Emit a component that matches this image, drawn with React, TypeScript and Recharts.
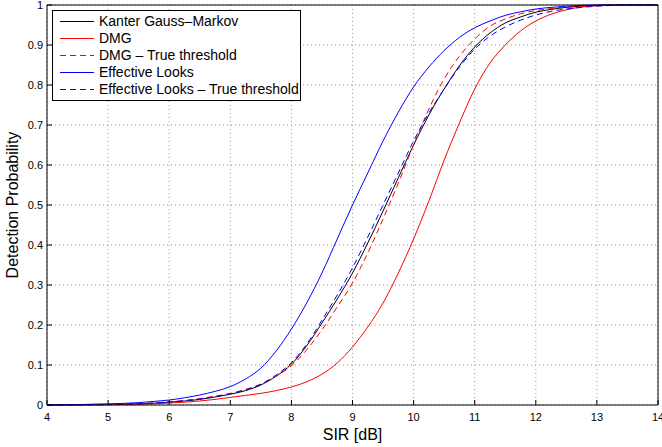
import React from 'react';
import { LineChart, Line, XAxis, YAxis, CartesianGrid, Legend } from 'recharts';

const sir = [4, 4.25, 4.5, 4.75, 5, 5.25, 5.5, 5.75, 6, 6.25, 6.5, 6.75, 7, 7.25, 7.5, 7.75, 8, 8.25, 8.5, 8.75, 9, 9.25, 9.5, 9.75, 10, 10.25, 10.5, 10.75, 11, 11.25, 11.5, 11.75, 12, 12.25, 12.5, 12.75, 13, 13.25, 13.5, 13.75, 14];

const kanter = [0, 0.0002, 0.0004, 0.0007, 0.001, 0.002, 0.003, 0.0045, 0.007, 0.01, 0.014, 0.02, 0.027, 0.036, 0.05, 0.072, 0.102, 0.148, 0.205, 0.265, 0.33, 0.405, 0.485, 0.568, 0.65, 0.725, 0.79, 0.848, 0.895, 0.93, 0.955, 0.97, 0.982, 0.989, 0.994, 0.997, 0.999, 1, 1, 1, 1];
const dmg = [0, 0.0002, 0.0004, 0.0007, 0.001, 0.0015, 0.002, 0.003, 0.005, 0.007, 0.01, 0.014, 0.019, 0.024, 0.029, 0.036, 0.045, 0.058, 0.077, 0.105, 0.145, 0.195, 0.255, 0.33, 0.415, 0.51, 0.612, 0.705, 0.79, 0.855, 0.9, 0.935, 0.96, 0.977, 0.988, 0.995, 0.998, 0.9995, 1, 1, 1];
const dmgTrue = [0, 0.0002, 0.0004, 0.0007, 0.001, 0.002, 0.003, 0.005, 0.008, 0.011, 0.016, 0.022, 0.029, 0.039, 0.052, 0.072, 0.098, 0.138, 0.188, 0.245, 0.305, 0.38, 0.465, 0.555, 0.65, 0.74, 0.815, 0.872, 0.915, 0.947, 0.965, 0.978, 0.986, 0.991, 0.995, 0.997, 0.999, 1, 1, 1, 1];
const effLooks = [0, 0.0005, 0.001, 0.002, 0.003, 0.004, 0.006, 0.009, 0.0125, 0.018, 0.025, 0.034, 0.046, 0.065, 0.092, 0.135, 0.19, 0.255, 0.33, 0.415, 0.5, 0.58, 0.66, 0.732, 0.795, 0.845, 0.886, 0.919, 0.943, 0.96, 0.974, 0.983, 0.99, 0.994, 0.997, 0.999, 1, 1, 1, 1, 1];
const effLooksTrue = [0, 0.0002, 0.0004, 0.0007, 0.001, 0.002, 0.003, 0.005, 0.0075, 0.011, 0.015, 0.021, 0.028, 0.038, 0.052, 0.075, 0.106, 0.152, 0.212, 0.275, 0.343, 0.42, 0.5, 0.58, 0.66, 0.73, 0.79, 0.845, 0.89, 0.922, 0.945, 0.962, 0.975, 0.984, 0.99, 0.994, 0.997, 0.999, 1, 1, 1];

const xTicks = [4, 5, 6, 7, 8, 9, 10, 11, 12, 13, 14];
const yTicks = [0, 0.1, 0.2, 0.3, 0.4, 0.5, 0.6, 0.7, 0.8, 0.9, 1];

const seriesKeys = ['kanter', 'dmg', 'dmgTrue', 'effLooks', 'effLooksTrue'];
const seriesNames = ['Kanter Gauss\u2013Markov', 'DMG', 'DMG \u2013 True threshold', 'Effective Looks', 'Effective Looks \u2013 True threshold'];
const seriesColors = ['#000000', '#ff0000', '#ff0000', '#0000ff', '#0000ff'];
const seriesDash = ['', '', '6 4', '', '6 4'];
const seriesValues = [kanter, dmg, dmgTrue, effLooks, effLooksTrue];

const data = sir.map((x, i) => {
  const row: Record<string, number> = { sir: x };
  seriesKeys.forEach((k, j) => {
    row[k] = seriesValues[j][i];
  });
  return row;
});

const FONT = '"Liberation Sans", Arial, Helvetica, sans-serif';

const LegendBox = () => (
  <div
    style={{
      border: '1px solid #000',
      background: '#fff',
      padding: '2px 0 2px 7px',
      width: 249,
      boxSizing: 'border-box',
      fontFamily: FONT,
      fontSize: 14,
      color: '#000',
    }}
  >
    {seriesNames.map((name, i) => (
      <div key={name} style={{ height: 17, display: 'flex', alignItems: 'center', whiteSpace: 'nowrap' }}>
        <svg width={34} height={17} style={{ display: 'block' }}>
          <line
            x1={0}
            x2={34}
            y1={8.5}
            y2={8.5}
            style={{ stroke: seriesColors[i], strokeWidth: 1, strokeDasharray: seriesDash[i] || 'none' }}
          />
        </svg>
        <span style={{ marginLeft: 5, lineHeight: '17px' }}>{name}</span>
      </div>
    ))}
  </div>
);

export default function App() {
  const tickStyle = { fontSize: 11, fill: '#000', fontFamily: FONT };
  return (
    <div style={{ position: 'absolute', left: 0, top: 0 }}>
      <LineChart
        width={662}
        height={447}
        data={data}
        margin={{ top: 4, right: 3, bottom: 0, left: 0 }}
        style={{ fontFamily: FONT }}
      >
        <CartesianGrid stroke="#999" strokeDasharray="1 3" />
        <XAxis
          dataKey="sir"
          type="number"
          domain={[4, 14]}
          ticks={xTicks}
          interval={0}
          height={42}
          tickSize={-5}
          tickMargin={13}
          tick={tickStyle}
          axisLine={{ stroke: '#000' }}
          tickLine={{ stroke: '#000' }}
          label={{ value: 'SIR [dB]', position: 'insideBottom', offset: 7, style: { fontSize: 16, fill: '#000', fontFamily: FONT } }}
        />
        <XAxis
          xAxisId="top"
          orientation="top"
          type="number"
          domain={[4, 14]}
          ticks={xTicks}
          interval={0}
          height={1}
          tickSize={-5}
          tick={false}
          axisLine={{ stroke: '#000' }}
          tickLine={{ stroke: '#000' }}
        />
        <YAxis
          type="number"
          domain={[0, 1]}
          ticks={yTicks}
          interval={0}
          width={47}
          tickSize={-5}
          tickMargin={9}
          tick={tickStyle}
          axisLine={{ stroke: '#000' }}
          tickLine={{ stroke: '#000' }}
          label={{ value: 'Detection Probability', angle: -90, position: 'insideLeft', offset: 12, style: { fontSize: 16, fill: '#000', fontFamily: FONT, textAnchor: 'middle' } }}
        />
        <YAxis
          yAxisId="right"
          orientation="right"
          type="number"
          domain={[0, 1]}
          ticks={yTicks}
          interval={0}
          width={1}
          tickSize={-5}
          tick={false}
          axisLine={{ stroke: '#000' }}
          tickLine={{ stroke: '#000' }}
        />
        {seriesKeys.map((k, i) => (
          <Line
            key={k}
            dataKey={k}
            name={seriesNames[i]}
            type="monotone"
            stroke={seriesColors[i]}
            strokeWidth={1}
            strokeDasharray={seriesDash[i] || undefined}
            dot={false}
            activeDot={false}
            isAnimationActive={false}
          />
        ))}
        <Legend
          layout="vertical"
          align="center"
          verticalAlign="middle"
          content={<LegendBox />}
          wrapperStyle={{ left: 52, top: 10, width: 249, height: 'auto' }}
        />
      </LineChart>
    </div>
  );
}
